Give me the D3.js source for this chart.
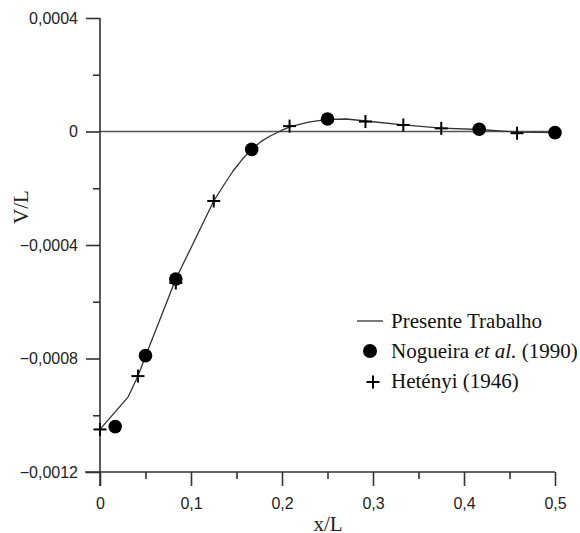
<!DOCTYPE html>
<html><head><meta charset="utf-8">
<script src="https://cdn.jsdelivr.net/npm/d3@7"></script>
<style>body{margin:0;background:#fff}</style>
</head><body>
<svg id="c" width="580" height="533"></svg>
<script>
const lineX = [0, 0.031, 0.0417, 0.05, 0.0833, 0.125, 0.1354, 0.1458, 0.1563, 0.1667, 0.1771, 0.1875, 0.1979, 0.2083, 0.2292, 0.25, 0.2708, 0.2917, 0.3333, 0.375, 0.4167, 0.4583, 0.5];
const lineY = [-0.00105, -0.000935, -0.000862, -0.000792, -0.00052, -0.000245, -0.000192, -0.000141, -0.000098, -0.000063, -0.000035, -0.000015, 0.000001, 0.000016, 0.000033, 0.000043, 0.000044, 0.000037, 0.000023, 0.000012, 0.000007, -0.000002, -0.000004];
const nogX = [0.0167, 0.05, 0.0833, 0.1667, 0.25, 0.4167, 0.5];
const nogY = [-0.00104, -0.00079, -0.00052, -0.000063, 0.000044, 0.000008, -0.000004];
const hetX = [0, 0.0417, 0.0833, 0.125, 0.2083, 0.2917, 0.3333, 0.375, 0.4583];
const hetY = [-0.00105, -0.000862, -0.000534, -0.000245, 0.000019, 0.000035, 0.000023, 0.000011, -0.000006];
const xTicks = [0, 0.1, 0.2, 0.3, 0.4, 0.5];
const xMinor = [0.05, 0.15, 0.25, 0.35, 0.45];
const yTicks = [0.0004, 0, -0.0004, -0.0008, -0.0012];
const yMinor = [0.0002, -0.0002, -0.0006, -0.001];
const legendLabels = ["Presente Trabalho", "Nogueira", "Hetényi (1946)"];

const serif = "'Liberation Serif', 'Times New Roman', serif";
const sans = "'Liberation Sans', Arial, sans-serif";
const svg = d3.select("#c");
const x = d3.scaleLinear().domain([0, 0.5]).range([100, 555]);
const y = d3.scaleLinear().domain([-0.0012, 0.0004]).range([472, 18]);
const fmt = d => d === 0 ? "0" : d3.format(".1~f")(d).replace(".", ",");
const fmtY = d => d === 0 ? "0" : d3.format(".4f")(d).replace(".", ",");
const axisColor = "#333";

// zero line
svg.append("line").attr("x1", x(0)).attr("x2", x(0.5)).attr("y1", y(0)).attr("y2", y(0))
  .attr("stroke", "#555").attr("stroke-width", 1.4);

// X axis
const gx = svg.append("g").attr("transform", `translate(0,${y(-0.0012)})`);
gx.call(d3.axisBottom(x).tickValues(xTicks).tickSize(14).tickPadding(12).tickFormat(fmt));
gx.select(".domain").remove();
gx.append("g").call(d3.axisBottom(x).tickValues(xMinor).tickSize(7).tickFormat(""))
  .select(".domain").remove();
gx.append("line").attr("x1", 85).attr("x2", x(0.5)).attr("stroke", axisColor).attr("stroke-width", 1.6);

// Y axis
const gy = svg.append("g").attr("transform", `translate(${x(0)},0)`);
gy.call(d3.axisLeft(y).tickValues(yTicks).tickSize(14).tickPadding(8).tickFormat(fmtY));
gy.select(".domain").remove();
gy.append("g").call(d3.axisLeft(y).tickValues(yMinor).tickSize(7).tickFormat(""))
  .select(".domain").remove();
gy.append("line").attr("y1", y(0.0004)).attr("y2", y(-0.0012) + 14).attr("stroke", axisColor).attr("stroke-width", 1.6);

svg.selectAll(".tick line").attr("stroke", axisColor).attr("stroke-width", 1.6);
svg.selectAll(".tick text").attr("fill", "#222").style("font-family", sans).style("font-size", "16px");

// axis titles
svg.append("text").attr("x", 328).attr("y", 531).attr("text-anchor", "middle")
  .style("font-family", serif).style("font-size", "21px").attr("fill", "#222").text("x/L");
svg.append("text").attr("transform", "translate(28,207) rotate(-90)").attr("text-anchor", "middle")
  .style("font-family", serif).style("font-size", "21px").attr("fill", "#222").text("V/L");

// line
const lineData = lineX.map((d, i) => [d, lineY[i]]);
svg.append("path").datum(lineData)
  .attr("d", d3.line().x(d => x(d[0])).y(d => y(d[1])))
  .attr("fill", "none").attr("stroke", "#333").attr("stroke-width", 1.3).attr("stroke-linejoin", "round");

// Nogueira circles
svg.append("g").selectAll("circle").data(nogX.map((d, i) => [d, nogY[i]])).join("circle")
  .attr("cx", d => x(d[0])).attr("cy", d => y(d[1])).attr("r", 6.8).attr("fill", "#000");

// Hetényi crosses
function drawPlus(g, cx, cy) {
  g.append("line").attr("x1", cx - 6.5).attr("x2", cx + 6.5).attr("y1", cy).attr("y2", cy).attr("stroke", "#000").attr("stroke-width", 2);
  g.append("line").attr("x1", cx).attr("x2", cx).attr("y1", cy - 6.5).attr("y2", cy + 6.5).attr("stroke", "#000").attr("stroke-width", 2);
}
const gh = svg.append("g");
hetX.forEach((d, i) => drawPlus(gh, x(d), y(hetY[i])));

// legend
const lg = svg.append("g").style("font-family", serif).style("font-size", "21px").attr("fill", "#111");
lg.append("line").attr("x1", 357).attr("x2", 383).attr("y1", 321).attr("y2", 321).attr("stroke", "#333").attr("stroke-width", 1.3);
lg.append("text").attr("x", 391).attr("y", 328).text(legendLabels[0]);
lg.append("circle").attr("cx", 370).attr("cy", 351).attr("r", 7).attr("fill", "#000");
const t2 = lg.append("text").attr("x", 391).attr("y", 358);
t2.append("tspan").text(legendLabels[1] + " ");
t2.append("tspan").style("font-style", "italic").text("et al.");
t2.append("tspan").text(" (1990)");
drawPlus(lg, 373, 382);
lg.append("text").attr("x", 391).attr("y", 388).text(legendLabels[2]);
</script>
</body></html>
